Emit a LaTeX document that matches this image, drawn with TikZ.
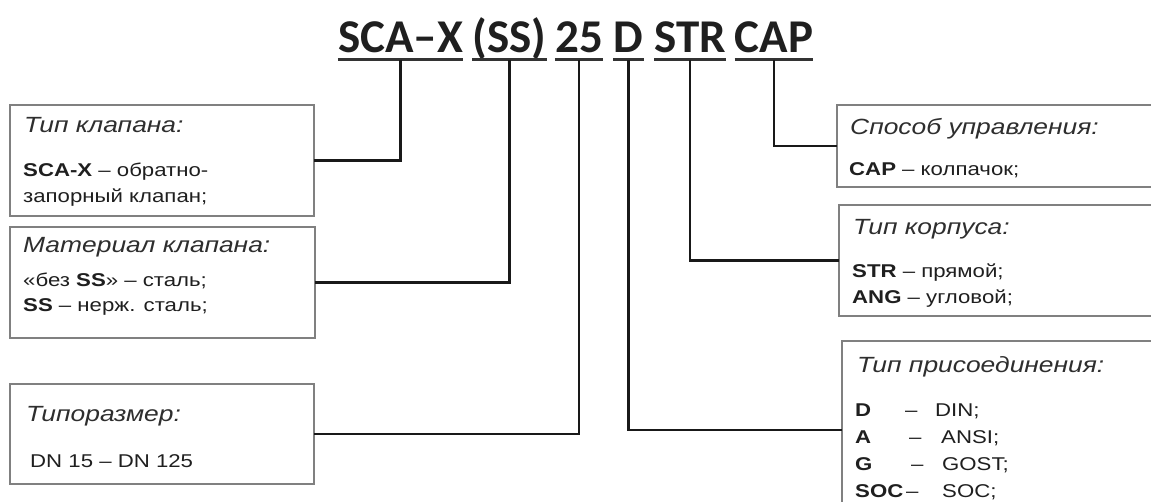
\documentclass[tikz,border=0pt]{standalone}
\usepackage{fontspec}
\setmainfont{Liberation Sans}
\newfontfamily\bodyfont[FakeStretch=1.2]{Liberation Sans}
\newfontfamily\headfont{Carlito}
\usetikzlibrary{calc}
\newcommand{\conrow}[4]{\makebox[#2pt][l]{\textbf{#1}}\makebox[#3pt][l]{–}#4}
\begin{document}
\begin{tikzpicture}[x=1pt,y=-1pt,
  tok/.style={anchor=base,inner sep=0pt,font=\headfont\bfseries\fontsize{47}{47}\selectfont,text=black!88},
  uline/.style={draw=black!80,line width=3pt},
  conn/.style={draw=black!90,line width=2.3pt},
  box/.style={draw=black!50,line width=1.4pt,fill=white,inner sep=0pt,outer sep=0pt,anchor=north west},
  boxtitle/.style={anchor=base west,inner sep=0pt,font=\bodyfont\itshape\fontsize{22}{22}\selectfont,text=black!82},
  boxtext/.style={anchor=base west,inner sep=0pt,font=\bodyfont\fontsize{18.5}{18.5}\selectfont,text=black!88}]
\useasboundingbox (0,0) rectangle (1151,502);
\clip (0,0) rectangle (1151,502);
\fill[white] (0,0) rectangle (1151,502);

% title tokens
\node[tok] (t1) at (400.5,52.6) {SCA–X};
\node[tok] (t2) at (509.5,52.6) {(SS)};
\node[tok] (t3) at (579,52.6) {25};
\node[tok] (t4) at (628.5,52.6) {D};
\node[tok] (t5) at (690,52.6) {STR};
\node[tok] (t6) at (774,52.6) {CAP};
\coordinate (ul) at (0,59.6);
\foreach \t in {t1,t2,t3,t4,t5,t6}{
  \draw[uline] (\t.west |- ul) -- (\t.east |- ul);
}

% boxes
\node[box,minimum width=304pt,minimum height=111pt] (b1) at (10,105) {};
\node[box,minimum width=305pt,minimum height=111pt] (b2) at (10,227) {};
\node[box,minimum width=304pt,minimum height=100pt] (b3) at (10,384) {};
\node[box,minimum width=330pt,minimum height=82pt] (b4) at (837,105) {};
\node[box,minimum width=330pt,minimum height=111pt] (b5) at (839,205) {};
\node[box,minimum width=330pt,minimum height=178pt] (b6) at (842,341) {};

% connectors
\draw[conn] (t1 |- ul) |- (b1.east);
\draw[conn] (t2 |- ul) |- (b2.east);
\draw[conn] (t3 |- ul) |- (b3.east);
\draw[conn] (t4 |- ul) |- (b6.west);
\draw[conn] (t5 |- ul) |- (b5.west);
\draw[conn] (t6 |- ul) |- (b4.west);

% box 1
\node[boxtitle] (b1h) at (24,133) {Тип клапана:};
\node[boxtext] (b1l1) at (23,177) {\textbf{SCA-X} – обратно-};
\node[boxtext] (b1l2) at (23,203) {запорный клапан;};
% box 2
\node[boxtitle] (b2h) at (23,253) {Материал клапана:};
\node[boxtext] (b2l1) at (23,287) {«без \textbf{SS}» – сталь;};
\node[boxtext] (b2l2) at (23,312) {\textbf{SS} – нерж. сталь;};
% box 3
\node[boxtitle] (b3h) at (26,421) {Типоразмер:};
\node[boxtext] (b3l1) at (30,467) {DN 15 – DN 125};
% box 4
\node[boxtitle] (b4h) at (850,135) {Способ управления:};
\node[boxtext] (b4l1) at (849,176) {\textbf{CAP} – колпачок;};
% box 5
\node[boxtitle] (b5h) at (853,235) {Тип корпуса:};
\node[boxtext] (b5l1) at (852,278) {\textbf{STR} – прямой;};
\node[boxtext] (b5l2) at (852,304) {\textbf{ANG} – угловой;};
% box 6
\node[boxtitle] (b6h) at (857,373) {Тип присоединения:};
\node[boxtext] (b6l1) at (855,416) {\conrow{D}{50}{30}{DIN;}};
\node[boxtext] (b6l2) at (855,443) {\conrow{A}{54}{32}{ANSI;}};
\node[boxtext] (b6l3) at (855,470) {\conrow{G}{56}{31}{GOST;}};
\node[boxtext] (b6l4) at (855,497) {\conrow{SOC\,}{51}{36}{SOC;}};
\end{tikzpicture}
\end{document}
